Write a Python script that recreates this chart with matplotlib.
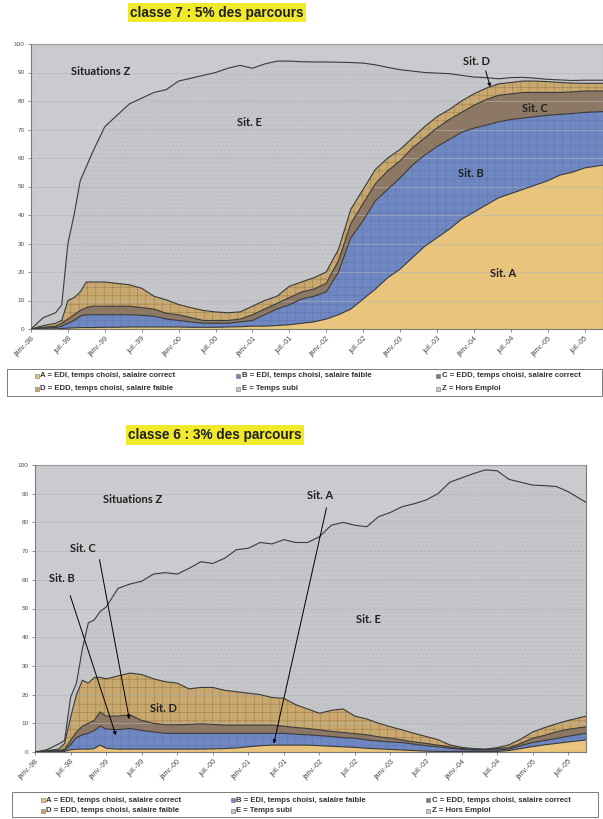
import numpy as np
import matplotlib
matplotlib.use('Agg')
import matplotlib.pyplot as plt
from matplotlib.patches import Rectangle

# ---------------- data : classe 7 (5% des parcours) ----------------
months_7 = [0, 2, 4, 5, 6, 7, 8, 9, 10, 12, 14, 16, 18, 20, 22, 24, 26, 28, 30, 32,
            34, 36, 38, 40, 42, 44, 46, 48, 50, 52, 54, 56, 58, 60, 62, 64, 66, 68,
            70, 72, 74, 76, 78, 80, 82, 84, 86, 88, 90, 93]
c7_A = [0, 0, 0, 0.2, 0.3, 0.4, 0.5, 0.5, 0.5, 0.6, 0.6, 0.7, 0.7, 0.7, 0.7, 0.7, 0.6, 0.6, 0.6, 0.7,
        0.8, 1, 1, 1.2, 1.5, 2, 2.5, 3.5, 5, 7, 10.5, 14, 18, 21, 25, 29, 32, 35,
        38.5, 41, 43.5, 46, 47.5, 49, 50.5, 52, 54, 55, 56.5, 57.5]
c7_B = [0, 0.3, 0.5, 0.8, 1.7, 2.6, 4, 4.5, 4.5, 4.4, 4.4, 4.3, 4.1, 3.8, 2.8, 2.3, 1.9, 1.4, 1.4, 1.3,
        1.7, 2, 4, 5.8, 7, 8.5, 9, 9.5, 15, 25, 27.5, 31, 31, 32, 32.5, 32, 32, 31.5,
        30.5, 29.5, 28, 26.7, 26, 25, 24, 23, 21.3, 20.6, 19.5, 18.8]
c7_C = [0, 0.3, 0.5, 1, 1.5, 2, 2, 2.5, 3, 3, 3, 3, 2.7, 2.5, 2, 2, 1.5, 1, 1, 1,
        1, 2, 2, 2, 2.5, 2.5, 2.5, 3, 4, 5, 6, 6, 6.5, 6, 6, 6, 6.5, 7,
        7, 8, 9, 9.3, 9, 9, 8.5, 8, 7.7, 7.6, 7.5, 7.2]
c7_D = [0, 0.6, 1, 1, 6.5, 6, 6.5, 9, 8.5, 8.5, 8, 7.5, 6.8, 4.5, 4.7, 3.6, 3.5, 3.5, 3, 2.7,
        2.5, 3, 3, 2.5, 4, 3.5, 4, 4, 4, 5, 5, 5, 4.5, 4, 3.5, 4, 4, 3.5,
        4, 4, 4, 4, 4, 4, 4, 3.8, 3.5, 3.1, 2.7, 2.7]
c7_E = [0, 2.8, 3.7, 5.5, 20, 29, 39, 40.5, 45.5, 54.5, 59, 63.5, 66.7, 71.5, 73.8, 78.4, 80.5, 82.5, 84, 85.8,
        86.5, 83.5, 83, 82.5, 79, 77.3, 75.7, 73.7, 65.6, 51.5, 44.3, 36.7, 31.8, 28, 23.5, 19, 15.3, 12.6,
        9, 5.9, 3.7, 1.8, 1.7, 1.3, 1, 0.8, 0.9, 0.9, 1.1, 1.1]

# ---------------- data : classe 6 (3% des parcours) ----------------
months_6 = [0, 2, 4, 5, 6, 7, 8, 9, 10, 11, 12, 14, 16, 18, 20, 22, 24, 26, 28, 30,
            32, 34, 36, 38, 40, 42, 44, 46, 48, 50, 52, 54, 56, 58, 60, 62, 64, 66,
            68, 70, 72, 74, 76, 78, 80, 82, 84, 86, 88, 90, 93]
c6_A = [0, 0.1, 0.1, 0.2, 0.8, 1, 1, 1, 1.2, 2.4, 1.3, 1, 1, 1, 1, 1, 1, 1, 1, 1.1,
        1.2, 1.4, 1.8, 2.2, 2.4, 2.4, 2.4, 2.4, 2.2, 2, 1.8, 1.6, 1.3, 1.1, 0.9, 0.7, 0.5, 0.3,
        0.2, 0.2, 0.2, 0.2, 0.2, 0.2, 0.5, 1.2, 1.9, 2.5, 3, 3.5, 4.2]
c6_B = [0, 0.1, 0.2, 0.3, 1.7, 4, 5, 5.5, 6.3, 6.6, 6.7, 6.8, 7.2, 6.5, 6, 5.5, 5.5, 5.5, 5.5, 5.4,
        5.3, 5.1, 4.7, 4.3, 4.1, 4.1, 3.8, 3.6, 3.5, 3.4, 3.2, 3.2, 2.9, 2.7, 2.6, 2.6, 2.2, 1.9,
        1.6, 1.1, 0.7, 0.5, 0.5, 0.5, 0.5, 1, 1.4, 1.5, 1.7, 2, 2.3]
c6_C = [0, 0.1, 0.2, 0.5, 1.5, 2, 3, 3.5, 3.5, 5, 4.5, 4.7, 4.8, 3.5, 3, 3, 3, 3.1, 3.3, 3.1,
        2.9, 2.9, 2.9, 2.9, 2.9, 2.5, 2.3, 2.2, 2, 1.8, 1.8, 1.6, 1.8, 1.5, 1.3, 0.9, 0.8, 0.8,
        0.6, 0.5, 0.3, 0.2, 0.2, 0.5, 0.5, 0.8, 1.5, 1.8, 2.3, 2.4, 2.3]
c6_D = [0, 0.2, 0.5, 2, 8, 13, 16, 14, 15, 12, 13, 14, 14.5, 16, 15.5, 15, 14.5, 12.4, 12.7, 12.9,
        12.1, 11.6, 11.1, 10.6, 9.6, 9.7, 8, 6.8, 5.8, 7.3, 8.2, 6.1, 5.5, 4.7, 4, 3.5, 3, 2.4,
        1.9, 0.7, 0.4, 0.3, 0.1, 0.3, 1, 1.5, 2.2, 2.7, 2.8, 3.1, 3.7]
c6_E = [0, 0.3, 1.8, 1, 7, 4, 11, 21, 20, 23, 25, 30.5, 31, 32.5, 36.5, 38, 38, 42, 43.8, 43.2,
        46, 49.5, 50.5, 53, 53.5, 55.3, 56.5, 58, 61.5, 64.5, 65, 66.5, 67, 72, 74.7, 77.8, 80, 82.4,
        85.7, 91.5, 93.9, 95.8, 97.3, 96.5, 92.5, 89.5, 86, 84.3, 82.7, 79.7, 74.5]

tick_months = list(range(0, 91, 6))
tick_labels = ['janv.-98', 'juil.-98', 'janv.-99', 'juil.-99', 'janv.-00', 'juil.-00',
               'janv.-01', 'juil.-01', 'janv.-02', 'juil.-02', 'janv.-03', 'juil.-03',
               'janv.-04', 'juil.-04', 'janv.-05', 'juil.-05']
y_ticks = list(range(0, 101, 10))

legend_labels = ['A = EDI, temps choisi, salaire correct',
                 'B = EDI, temps choisi, salaire faible',
                 'C = EDD, temps choisi, salaire correct',
                 'D = EDD, temps choisi, salaire faible',
                 'E = Temps subi',
                 'Z = Hors Emploi']

# ---------------- styles ----------------
col_A = '#e8c47c'
col_B = '#7088c2'
col_C = '#8c7865'
col_D = '#c8a86f'
col_E = '#c4c6c9'
col_Z = '#cacbce'
legend_cols = [col_A, col_B, col_C, col_D, col_E, col_Z]
hatch_col = {'A': '#dcb56a', 'B': '#5d74ad', 'C': '#7a6754', 'D': '#9a7c48', 'E': '#b6b8bb'}
hatches = {'A': None, 'B': '++', 'C': None, 'D': '++', 'E': '....'}

plt.rcParams['font.family'] = ['Liberation Sans', 'DejaVu Sans']
plt.rcParams['hatch.linewidth'] = 0.35

W, H = 603, 819
fig = plt.figure(figsize=(W / 100, H / 100), dpi=100)
fig.patch.set_facecolor('white')

ann_font = ['Lato', 'Open Sans', 'DejaVu Sans']


def fx(px):
    return px / W


def fy(py):
    return 1 - py / H


def draw_chart(ax, months, A, B, C, D, E):
    x = np.array(months, dtype=float)
    layers = [A, B, C, D, E]
    keys = ['A', 'B', 'C', 'D', 'E']
    cols = [col_A, col_B, col_C, col_D, col_E]
    ax.set_facecolor(col_Z)
    polys = ax.stackplot(x, *layers, colors=cols, linewidth=0, zorder=2)
    for p, k in zip(polys, keys):
        if hatches[k]:
            p.set_hatch(hatches[k])
            p.set_edgecolor(hatch_col[k])
            p.set_linewidth(0)
    cum = np.cumsum(np.array(layers, dtype=float), axis=0)
    for row in cum:
        ax.plot(x, row, color='#3a3a3a', lw=0.8, zorder=3)
    ax.set_xlim(0, 93)
    ax.set_ylim(0, 100)
    ax.set_yticks(y_ticks)
    ax.set_yticklabels([str(v) for v in y_ticks], fontsize=4.6, color='#505050')
    ax.set_xticks(tick_months)
    ax.set_xticklabels(tick_labels, fontsize=5.1, color='#484848', rotation=45,
                       ha='right', va='top', rotation_mode='anchor')
    ax.tick_params(axis='both', length=2.5, width=0.5, color='#606060', pad=2)
    ax.yaxis.grid(True, color='#b4b6b9', lw=0.4, zorder=2.5)
    ax.set_axisbelow(False)
    for s in ax.spines.values():
        s.set_color('#7a7a7a')
        s.set_linewidth(0.8)


def draw_legend(box, rows_y, cols_x):
    x0, y0, x1, y1 = box
    fig.patches.append(Rectangle((fx(x0), fy(y1)), fx(x1) - fx(x0), fy(y0) - fy(y1),
                                 transform=fig.transFigure, facecolor='white',
                                 edgecolor='#7a7a7a', linewidth=0.7))
    for i, (lab, c) in enumerate(zip(legend_labels, legend_cols)):
        r, k = divmod(i, 3)
        mx, my = cols_x[k], rows_y[r]
        s = 4.0
        fig.patches.append(Rectangle((fx(mx - s / 2), fy(my + s / 2)), s / W, s / H,
                                     transform=fig.transFigure, facecolor=c,
                                     edgecolor='#707070', linewidth=0.4))
        fig.text(fx(mx + 3.5), fy(my), lab, ha='left', va='center', fontsize=5.6,
                 fontweight='bold', color='#333333')


# ---------------- top chart ----------------
ax1 = fig.add_axes([fx(31), fy(329), fx(603) - fx(31), fy(44) - fy(329)])
draw_chart(ax1, months_7, c7_A, c7_B, c7_C, c7_D, c7_E)
fig.text(fx(217), fy(12.5), 'classe 7 : 5% des parcours', ha='center', va='center',
         fontsize=9.8, fontweight='bold', color='#202020',
         bbox=dict(boxstyle='square,pad=0.2', facecolor='#f0ea2a', edgecolor='none'))

akw = dict(fontsize=8, fontweight='bold', color='#202020', family=ann_font,
           ha='center', va='center', zorder=6)
ax1.text(11.3, 90.2, 'Situations Z', **akw)
ax1.text(35.5, 72.6, 'Sit. E', **akw)
ax1.text(72.5, 94.0, 'Sit. D', **akw)
ax1.text(82.0, 77.5, 'Sit. C', **akw)
ax1.text(71.5, 54.7, 'Sit. B', **akw)
ax1.text(76.7, 19.3, 'Sit. A', **akw)
arrow = dict(arrowstyle='-|>', color='black', lw=0.7, mutation_scale=5)
ax1.annotate('', xy=(74.8, 84.0), xytext=(73.8, 91.5), arrowprops=arrow, zorder=6)

draw_legend((7, 369, 602, 396), (376, 389), (37, 238, 438))

# ---------------- bottom chart ----------------
ax2 = fig.add_axes([fx(35), fy(752), fx(586) - fx(35), fy(465) - fy(752)])
draw_chart(ax2, months_6, c6_A, c6_B, c6_C, c6_D, c6_E)
fig.text(fx(215), fy(435), 'classe 6 : 3% des parcours', ha='center', va='center',
         fontsize=9.8, fontweight='bold', color='#202020',
         bbox=dict(boxstyle='square,pad=0.2', facecolor='#f0ea2a', edgecolor='none'))

ax2.text(16.4, 88.0, 'Situations Z', **akw)
ax2.text(8.1, 71.0, 'Sit. C', **akw)
ax2.text(4.5, 60.6, 'Sit. B', **akw)
ax2.text(21.7, 15.0, 'Sit. D', **akw)
ax2.text(48.1, 89.5, 'Sit. A', **akw)
ax2.text(56.3, 46.0, 'Sit. E', **akw)
ax2.annotate('', xy=(16.0, 10.5), xytext=(10.8, 68.0), arrowprops=arrow, zorder=6)
ax2.annotate('', xy=(13.8, 4.9), xytext=(5.8, 55.4), arrowprops=arrow, zorder=6)
ax2.annotate('', xy=(40.2, 2.0), xytext=(49.3, 86.0), arrowprops=arrow, zorder=6)

draw_legend((12, 792, 598, 817), (800, 811), (43, 233, 428))

fig.savefig('out.png', dpi=100, facecolor='white')
